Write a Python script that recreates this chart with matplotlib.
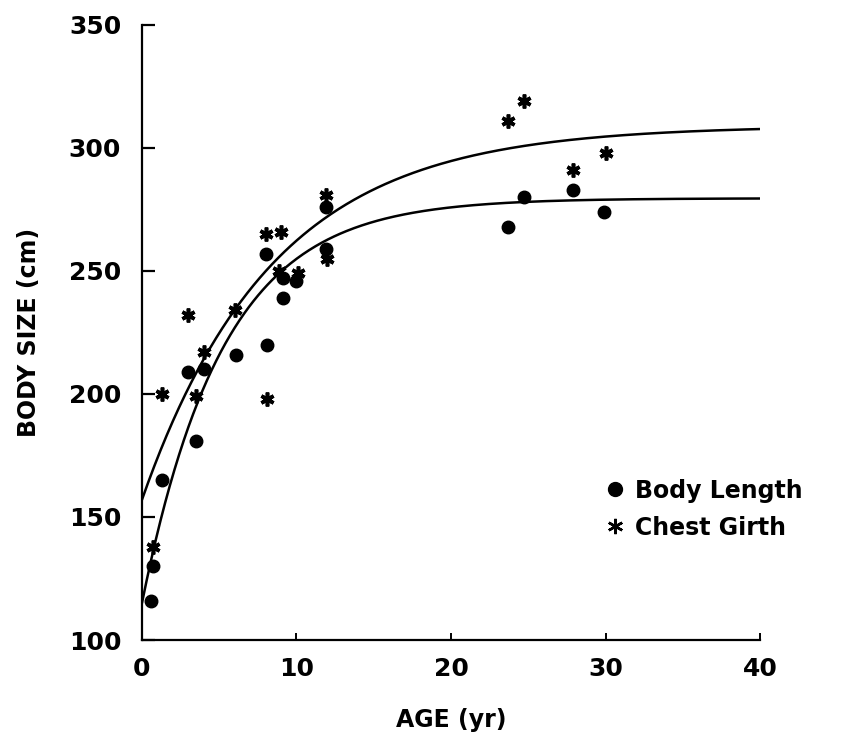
import numpy as np
import matplotlib
matplotlib.use("Agg")
import matplotlib.pyplot as plt
from matplotlib.lines import Line2D

# Body length measurements (age in yr, size in cm)
bl_age = [0.6, 0.7, 1.3, 3.0, 3.5, 4.0, 6.1, 8.1, 8.0, 9.1, 9.1, 10.0, 11.9, 11.9, 23.7, 24.7, 27.9, 29.9]
bl_size = [116, 130, 165, 209, 181, 210, 216, 220, 257, 239, 247, 246, 259, 276, 268, 280, 283, 274]

# Chest girth measurements
cg_age = [0.7, 1.3, 3.0, 3.5, 4.0, 6.0, 8.1, 8.0, 9.0, 8.9, 10.1, 11.9, 12.0, 23.7, 24.7, 27.9, 30.0]
cg_size = [138, 200, 232, 199, 217, 234, 198, 265, 266, 250, 249, 281, 255, 311, 319, 291, 298]

# von Bertalanffy growth curves: L(t) = Linf - (Linf - L0) * exp(-k t)
bl_fit = dict(linf=279.5, l0=115.0, k=0.19)
cg_fit = dict(linf=309.0, l0=157.0, k=0.118)

x_ticks = [0, 10, 20, 30, 40]
y_ticks = [100, 150, 200, 250, 300, 350]


def growth(t, linf, l0, k):
    return linf - (linf - l0) * np.exp(-k * t)


plt.rcParams['font.family'] = ['DejaVu Sans']
plt.rcParams['font.weight'] = 'bold'

fig = plt.figure(figsize=(8.41, 7.43), dpi=100)
ax = fig.add_axes([0.1688, 0.1386, 0.735, 0.828])

t = np.linspace(0, 40, 400)
ax.plot(t, growth(t, **bl_fit), color='black', lw=1.8, solid_capstyle='round')
ax.plot(t, growth(t, **cg_fit), color='black', lw=1.8, solid_capstyle='round')

ax.plot(bl_age, bl_size, 'o', color='black', ms=9, ls='none', clip_on=False)
ax.plot(cg_age, cg_size, ls='none', marker=(6, 2, 0), color='black',
        ms=10, mew=2.6, clip_on=False)

ax.set_xlim(0, 40)
ax.set_ylim(100, 350)
ax.set_xticks(x_ticks)
ax.set_yticks(y_ticks)

for side in ['top', 'right']:
    ax.spines[side].set_visible(False)
for side in ['left', 'bottom']:
    ax.spines[side].set_linewidth(1.6)

ax.tick_params(axis='y', direction='in', length=9, width=1.6, pad=15, labelsize=18)
ax.tick_params(axis='x', direction='in', length=5, width=1.4, pad=12, labelsize=18)

ax.set_xlabel('AGE (yr)', fontsize=17, fontweight='bold', labelpad=20)
ax.set_ylabel('BODY SIZE (cm)', fontsize=17, fontweight='bold', labelpad=20)

handles = [
    Line2D([], [], ls='none', marker='o', color='black', ms=10),
    Line2D([], [], ls='none', marker=(6, 2, 0), color='black', ms=11, mew=1.8),
]
ax.legend(handles, ['Body Length', 'Chest Girth'], loc='upper left',
          bbox_to_anchor=(0.712, 0.297), frameon=False, handletextpad=0.35,
          handlelength=1.0, labelspacing=0.55,
          prop={'size': 17, 'weight': 'bold'})

fig.savefig('out.png', dpi=100)
